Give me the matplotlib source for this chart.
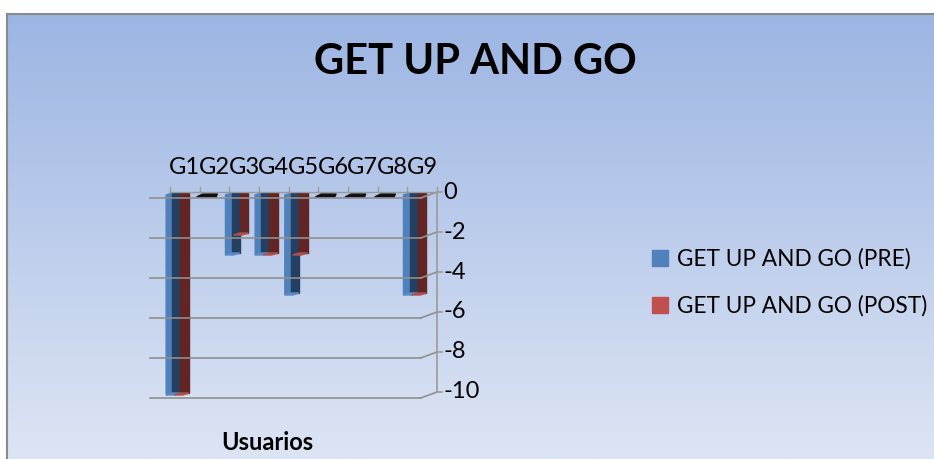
import numpy as np
import matplotlib.pyplot as plt
from matplotlib.patches import Polygon, Rectangle
from matplotlib.transforms import offset_copy

plt.rcParams['font.family'] = ['Lato', 'DejaVu Sans']

grupos = ['G1', 'G2', 'G3', 'G4', 'G5', 'G6', 'G7', 'G8', 'G9']
pre = [-10, 0, -3, -3, -5, 0, 0, 0, -5]
post = [-10, 0, -2, -3, -3, 0, 0, 0, -5]
yticks = [0, -2, -4, -6, -8, -10]

W, H = 934, 459
fig = plt.figure(figsize=(W / 100, H / 100), dpi=100)

# fondo degradado del area del grafico
bg = fig.add_axes([7 / W, 0, 1 - 7 / W, 1 - 14 / H])
top = np.array([156, 181, 227]) / 255
bot = np.array([221, 229, 244]) / 255
t = np.linspace(0, 1, 256)[:, None]
grad = top + (bot - top) * t
bg.imshow(grad[:, None, :], aspect='auto', extent=[0, 1, 0, 1])
bg.set_xlim(0, 1)
bg.set_ylim(0, 1)
bg.axis('off')
fig.add_artist(plt.Line2D([7 / W, 7 / W], [0, 1 - 13.5 / H], color='#8a8a8a', lw=1.5))
fig.add_artist(plt.Line2D([7 / W, 1], [1 - 13.5 / H, 1 - 13.5 / H], color='#8a8a8a', lw=1.5))

# ejes: 0 en y=192 px, -10 en y=392 px, categorias de x=170 a x=437
x0, x1 = 150, 437
ax = fig.add_axes([x0 / W, 1 - 392 / H, (x1 - x0) / W, 200 / H])
ax.set_xlim(-0.5 - 20 / 29.67, 8.5)
ax.set_ylim(-10, 0)
ax.patch.set_alpha(0)
for s in ax.spines.values():
    s.set_visible(False)

# lineas de la pared del fondo con el quiebre hacia el eje
back = offset_copy(ax.transData, fig=fig, x=0, y=-6, units='dots')
for v in yticks:
    ax.plot([-1.17, 7.95], [v, v], color='#8f8f8f', lw=1.2, transform=back, clip_on=False)
    ax.plot([7.95, 8.5], [v - 0.3, v], color='#8f8f8f', lw=1.2, clip_on=False)

# eje superior de categorias y eje derecho de valores
ax.plot([-0.5, 8.5], [0, 0], color='#9a9a9a', lw=1, clip_on=False)
ax.plot([8.5, 8.5], [0, -10], color='#9a9a9a', lw=1.2, clip_on=False)
for k in np.arange(-0.5, 9, 1):
    ax.plot([k, k], [0, 0.25], color='#9a9a9a', lw=1, clip_on=False)
for v in yticks:
    ax.plot([8.5, 8.68], [v, v], color='#9a9a9a', lw=1.2, clip_on=False)
    ax.text(8.72, v, str(v), fontsize=17, va='center', ha='left', color='black')
ax.set_yticks([])
ax.set_xticks([])
for i, g in enumerate(grupos):
    ax.text(i, 0.7, g, fontsize=17, ha='center', va='bottom', color='black')

# columnas con efecto 3D
bar_tr = offset_copy(ax.transData, fig=fig, x=0, y=-1, units='dots')
for i in range(len(grupos)):
    a, b = pre[i], post[i]
    if a == 0 and b == 0:
        ax.add_patch(Polygon([(i - 0.6, -0.2), (i + 0.05, -0.2), (i + 0.1, -0.05), (i - 0.4, -0.05)],
                             closed=True, color='#111111', transform=bar_tr, clip_on=False))
        continue
    # PRE: cara lateral clara y frente oscuro
    ax.add_patch(Polygon([(i - 0.63, -0.1), (i - 0.42, 0), (i - 0.42, a), (i - 0.63, a - 0.1)],
                         closed=True, color='#4f81bd', transform=bar_tr, clip_on=False))
    ax.add_patch(Rectangle((i - 0.42, a), 0.27, -a, color='#243f60',
                           transform=bar_tr, clip_on=False))
    ax.add_patch(Polygon([(i - 0.63, a - 0.1), (i - 0.42, a), (i - 0.15, a), (i - 0.36, a - 0.1)],
                         closed=True, color='#5b8ac6', transform=bar_tr, clip_on=False))
    # POST
    ax.add_patch(Rectangle((i - 0.15, b), 0.29, -b, color='#632523',
                           transform=bar_tr, clip_on=False))
    ax.add_patch(Polygon([(i - 0.36, b - 0.1), (i - 0.15, b), (i + 0.14, b), (i - 0.07, b - 0.1)],
                         closed=True, color='#b0504d', transform=bar_tr, clip_on=False))

fig.text(475 / W, 1 - 62 / H, 'GET UP AND GO', fontsize=30, fontweight='bold',
         ha='center', va='center')
fig.text(267 / W, 1 - 443 / H, 'Usuarios', fontsize=17, fontweight='bold',
         ha='center', va='center')

# leyenda
fig.patches.append(Rectangle((652 / W, 1 - 266 / H), 16 / W, 16 / H, color='#4f81bd',
                             transform=fig.transFigure, figure=fig))
fig.patches.append(Rectangle((652 / W, 1 - 313 / H), 16 / W, 16 / H, color='#c0504d',
                             transform=fig.transFigure, figure=fig))
fig.text(677 / W, 1 - 259 / H, 'GET UP AND GO (PRE)', fontsize=16.3, ha='left', va='center')
fig.text(677 / W, 1 - 306 / H, 'GET UP AND GO (POST)', fontsize=16.3, ha='left', va='center')

fig.savefig('out.png', dpi=100)
